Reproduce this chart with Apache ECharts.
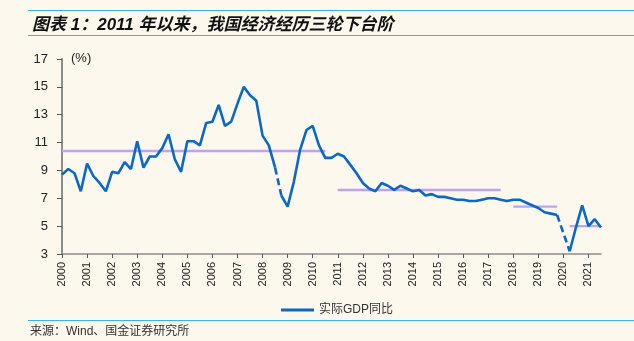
<!DOCTYPE html>
<html>
<head>
<meta charset="utf-8">
<script src="https://cdn.jsdelivr.net/npm/echarts@6/dist/echarts.min.js"></script>
<style>
  html, body { margin: 0; padding: 0; background: #fcf8ee; }
  #chart { width: 634px; height: 341px; }
</style>
</head>
<body>
<div id="chart"></div>
<script>
// Years shown on the x axis; the series is quarterly, 2000Q1 to 2021Q3
const years = [2000, 2001, 2002, 2003, 2004, 2005, 2006, 2007, 2008, 2009, 2010,
  2011, 2012, 2013, 2014, 2015, 2016, 2017, 2018, 2019, 2020, 2021];
const lastQuarter = '2021Q3';

// Real GDP, year-on-year (%), one value per quarter; 2020Q1 is left out
const gdp = [
  8.7, 9.1, 8.8, 7.5,    // 2000
  9.5, 8.6, 8.1, 7.5,    // 2001
  8.9, 8.8, 9.6, 9.1,    // 2002
  11.1, 9.2, 10.0, 10.0, // 2003
  10.6, 11.6, 9.8, 8.9,  // 2004
  11.1, 11.1, 10.8, 12.4,// 2005
  12.5, 13.7, 12.2, 12.5,// 2006
  13.8, 15.0, 14.4, 14.0,// 2007
  11.5, 10.8, 9.2, 7.2,  // 2008
  6.4, 8.2, 10.5, 11.9,  // 2009
  12.2, 10.8, 9.9, 9.9,  // 2010
  10.2, 10.0, 9.4, 8.8,  // 2011
  8.1, 7.7, 7.5, 8.1,    // 2012
  7.9, 7.6, 7.9, 7.7,    // 2013
  7.5, 7.6, 7.2, 7.3,    // 2014
  7.1, 7.1, 7.0, 6.9,    // 2015
  6.9, 6.8, 6.8, 6.9,    // 2016
  7.0, 7.0, 6.9, 6.8,    // 2017
  6.9, 6.9, 6.7, 6.5,    // 2018
  6.3, 6.0, 5.9, 5.8,    // 2019
  null, 3.2, 4.9, 6.5,   // 2020
  5.0, 5.5, 4.9          // 2021
];

// Segments drawn dashed (start quarter, end quarter)
const dashedSpans = [['2008Q3', '2008Q4'], ['2019Q4', '2020Q2']];

// Average growth of each stage
const stageLevels = [10.4, 7.6, 6.4, 5.0];
const stageFrom = ['2000Q1', '2011Q1', '2018Q1', '2020Q2'];
const stageTo = ['2010Q3', '2017Q3', '2019Q4', '2021Q3'];

const yTicks = { min: 3, max: 17, step: 2 };
const seriesName = '实际GDP同比';

// Quarter categories
const quarters = [];
for (const y of years) {
  for (let q = 1; q <= 4; q++) {
    quarters.push(y + 'Q' + q);
    if (y + 'Q' + q === lastQuarter) break;
  }
}
const qi = (label) => quarters.indexOf(label);

// Solid pieces: the whole series broken at each dashed span
const breaks = dashedSpans.map(s => [qi(s[0]), qi(s[1])]);
const solidPieces = [];
let start = 0;
for (const [a, b] of breaks) {
  solidPieces.push([start, a]);
  start = b;
}
solidPieces.push([start, quarters.length - 1]);

const BLUE = '#0a68c8';
const PURPLE = '#bea2f6';

const series = [];
solidPieces.forEach(([a, b]) => {
  series.push({
    name: seriesName,
    type: 'line',
    data: gdp.map((v, i) => (i >= a && i <= b ? v : null)),
    symbol: 'none',
    connectNulls: false,
    lineStyle: { color: BLUE, width: 2.6 },
    itemStyle: { color: BLUE },
    z: 5
  });
});
breaks.forEach(([a, b]) => {
  series.push({
    name: 'dashed',
    type: 'line',
    data: gdp.map((v, i) => (i === a || i === b ? v : null)),
    symbol: 'none',
    connectNulls: true,
    lineStyle: { color: BLUE, width: 2.6, type: [7, 4] },
    z: 5
  });
});
stageLevels.forEach((lv, k) => {
  const a = qi(stageFrom[k]), b = qi(stageTo[k]);
  series.push({
    name: 'stage' + k,
    type: 'line',
    data: quarters.map((_, i) => (i >= a && i <= b ? lv : null)),
    symbol: 'none',
    connectNulls: false,
    lineStyle: { color: PURPLE, width: 2.4 },
    z: 3
  });
});

const chart = echarts.init(document.getElementById('chart'));
const FONT = '"Liberation Sans", Arial, "Noto Sans CJK SC", sans-serif';
const yearTick = (idx) => idx % 4 === 0;

chart.setOption({
  backgroundColor: '#fcf8ee',
  animation: false,
  textStyle: { fontFamily: FONT },
  title: {
    text: '图表 1：2011 年以来，我国经济经历三轮下台阶',
    left: 27,
    top: 12,
    textStyle: {
      fontFamily: FONT,
      fontSize: 17,
      fontWeight: 'bold',
      fontStyle: 'italic',
      color: '#111'
    }
  },
  legend: {
    data: [{ name: seriesName, icon: 'rect' }],
    left: 276,
    top: 299,
    itemWidth: 33,
    itemHeight: 3,
    itemGap: 10,
    textStyle: { fontSize: 12, color: '#333', fontFamily: FONT }
  },
  grid: { left: 62, right: 33, top: 59, bottom: 87 },
  xAxis: {
    type: 'category',
    data: quarters,
    boundaryGap: false,
    axisLine: { lineStyle: { color: '#8c8c88', width: 1.5 } },
    axisTick: { show: true, interval: yearTick, length: 4, lineStyle: { color: '#555' } },
    axisLabel: {
      interval: yearTick,
      rotate: 90,
      margin: 8,
      fontSize: 11,
      color: '#222',
      fontFamily: FONT,
      formatter: (v) => v.slice(0, 4)
    },
    splitLine: { show: false }
  },
  yAxis: {
    type: 'value',
    min: yTicks.min,
    max: yTicks.max,
    interval: yTicks.step,
    axisLine: { show: true, lineStyle: { color: '#8c8c88', width: 2 } },
    axisTick: { show: true, length: 5, lineStyle: { color: '#555' } },
    axisLabel: { fontSize: 13, color: '#222', margin: 14, fontFamily: FONT },
    splitLine: { show: false }
  },
  graphic: [
    { type: 'line', shape: { x1: 28, y1: 10.5, x2: 634, y2: 10.5 }, style: { stroke: '#3cb3e6', lineWidth: 1.2 } },
    { type: 'line', shape: { x1: 28, y1: 35.5, x2: 634, y2: 35.5 }, style: { stroke: '#3cb3e6', lineWidth: 1.2 } },
    { type: 'line', shape: { x1: 28, y1: 320.5, x2: 634, y2: 320.5 }, style: { stroke: '#3cb3e6', lineWidth: 1.2 } },
    { type: 'text', left: 71, top: 52, style: { text: '(%)', fontSize: 13, fill: '#222', fontFamily: FONT } },
    { type: 'text', left: 30, top: 326, style: { text: '来源：Wind、国金证券研究所', fontSize: 12, fill: '#333', fontFamily: FONT } }
  ],
  series: series
});
</script>
</body>
</html>
